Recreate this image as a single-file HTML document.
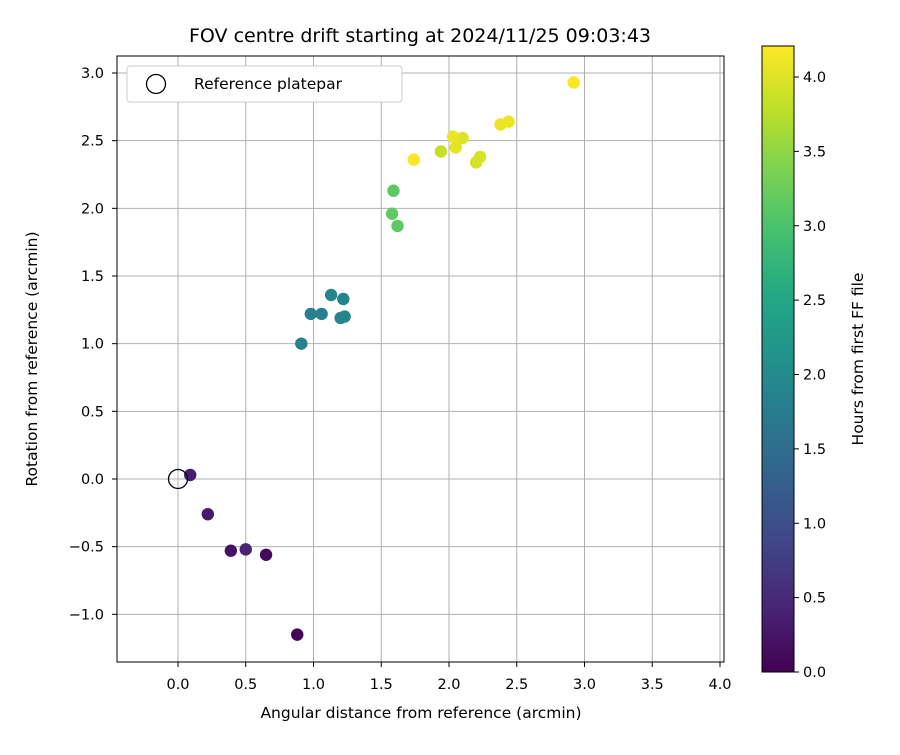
<!DOCTYPE html>
<html><head><meta charset="utf-8"><style>body{margin:0;background:#fff}svg{font-family:"DejaVu Sans","Liberation Sans",sans-serif}</style></head>
<body>
<svg id="chart" width="900" height="750" xmlns="http://www.w3.org/2000/svg">
<defs><linearGradient id="vir" x1="0" y1="1" x2="0" y2="0">
<stop offset="0" stop-color="#440154"/><stop offset="0.1" stop-color="#482475"/><stop offset="0.2" stop-color="#414487"/><stop offset="0.3" stop-color="#355f8d"/><stop offset="0.4" stop-color="#2a788e"/><stop offset="0.5" stop-color="#21918c"/><stop offset="0.6" stop-color="#22a884"/><stop offset="0.7" stop-color="#44bf70"/><stop offset="0.8" stop-color="#7ad151"/><stop offset="0.9" stop-color="#bddf26"/><stop offset="1" stop-color="#fde725"/></linearGradient></defs>
<text x="420" y="42" font-size="19" text-anchor="middle">FOV centre drift starting at 2024/11/25 09:03:43</text>
<g id="grid"></g><g id="pts"></g>
<rect x="117" y="56" width="607" height="606" fill="none" stroke="#000" stroke-width="1"/>
<g id="ticks"></g>
<text x="421" y="718" font-size="15.5" text-anchor="middle">Angular distance from reference (arcmin)</text>
<text transform="translate(37,359) rotate(-90)" font-size="15.5" text-anchor="middle">Rotation from reference (arcmin)</text>
<g>
<rect x="127" y="66" width="275" height="36" rx="3" fill="#fff" stroke="#ccc"/>
<circle cx="156" cy="84" r="9.5" fill="none" stroke="#000" stroke-width="1.3"/>
<text x="194" y="89" font-size="15.5">Reference platepar</text></g>
<rect x="762" y="46" width="32" height="626" fill="url(#vir)" stroke="#000"/>
<g id="cb"></g>
<text transform="translate(863,359) rotate(-90)" font-size="15.5" text-anchor="middle">Hours from first FF file</text>
</svg>
<script>
const xs=[0.09,0.22,0.39,0.50,0.65,0.88,0.91,0.98,1.06,1.13,1.20,1.23,1.22,1.58,1.59,1.62,1.74,1.94,2.03,2.05,2.10,2.20,2.23,2.38,2.44,2.92];
const ys=[0.03,-0.26,-0.53,-0.52,-0.56,-1.15,1.00,1.22,1.22,1.36,1.19,1.20,1.33,1.96,2.13,1.87,2.36,2.42,2.53,2.45,2.52,2.34,2.38,2.62,2.64,2.93];
const hrs=[0.35,0.3,0.2,0.4,0.1,0.05,1.8,1.8,1.8,1.9,1.9,1.9,1.9,3.15,3.15,3.15,4.2,3.85,4.1,4.05,4.0,3.95,3.95,4.1,4.1,4.2];
const xTicks=[0,0.5,1,1.5,2,2.5,3,3.5,4];
const yTicks=[-1,-0.5,0,0.5,1,1.5,2,2.5,3];
const cbTicks=[0,0.5,1,1.5,2,2.5,3,3.5,4];
const X=v=>178+v*135.5, Y=v=>479-v*135.33, C=v=>672-v*148.75, HMAX=4.21;
const stops=["#440154","#482475","#414487","#355f8d","#2a788e","#21918c","#22a884","#44bf70","#7ad151","#bddf26","#fde725"];
function hex(h){return[1,3,5].map(i=>parseInt(h.substr(i,2),16));}
function vir(t){t=Math.max(0,Math.min(1,t))*10;const i=Math.min(9,Math.floor(t)),f=t-i,a=hex(stops[i]),b=hex(stops[i+1]);return`rgb(${a.map((v,k)=>Math.round(v+(b[k]-v)*f)).join(',')})`;}
const NS="http://www.w3.org/2000/svg";
function mk(p,tag,at){const e=document.createElementNS(NS,tag);for(const k in at)e.setAttribute(k,at[k]);document.getElementById(p).appendChild(e);return e;}
xTicks.forEach(v=>{const l=mk('grid','line',{x1:X(v),x2:X(v),y1:56,y2:662,stroke:'#b0b0b0','stroke-width':1});


mk('ticks','line',{x1:X(v),x2:X(v),y1:662,y2:667,stroke:'#000'});
const t=mk('ticks','text',{x:X(v),y:689,'font-size':14.5,'text-anchor':'middle'});t.textContent=v.toFixed(1);

});
yTicks.forEach(v=>{const l=mk('grid','line',{x1:117,x2:724,y1:Y(v),y2:Y(v),stroke:'#b0b0b0','stroke-width':1});


mk('ticks','line',{x1:112,x2:117,y1:Y(v),y2:Y(v),stroke:'#000'});
const t=mk('ticks','text',{x:104,y:Y(v)+5,'font-size':14.5,'text-anchor':'end'});t.textContent=(v<0?'\u2212':'')+Math.abs(v).toFixed(1);

});
cbTicks.forEach(v=>{mk('cb','line',{x1:794,x2:799,y1:C(v),y2:C(v),stroke:'#000'});
const t=mk('cb','text',{x:803,y:C(v)+5,'font-size':14.5});t.textContent=v.toFixed(1);

});
xs.forEach((x,i)=>{const c=mk('pts','circle',{cx:X(x),cy:Y(ys[i]),r:6.2,fill:vir(hrs[i]/HMAX)});

});
const r=mk('pts','circle',{cx:X(0),cy:Y(0),r:9.5,fill:'none',stroke:'#000','stroke-width':1.3});


</script>
</body></html>
